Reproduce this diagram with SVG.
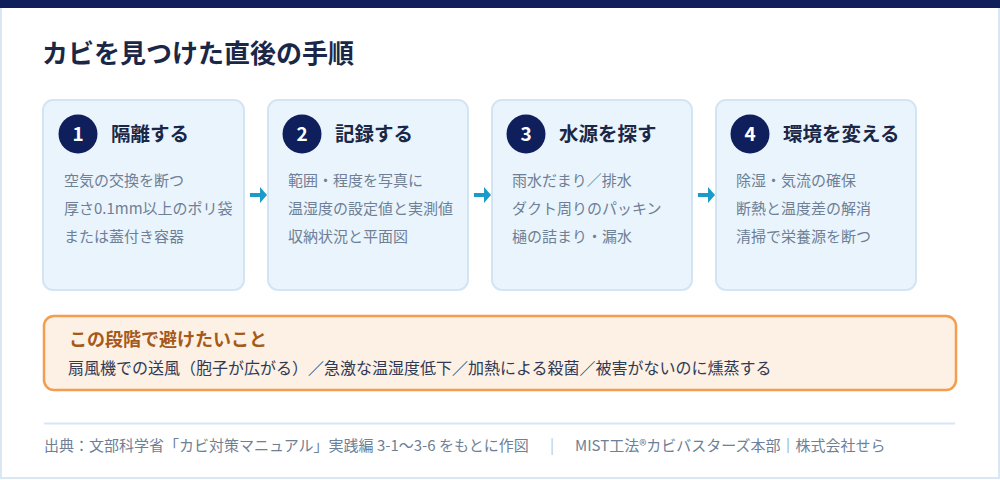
<svg xmlns="http://www.w3.org/2000/svg" width="1000" height="480" viewBox="0 0 1000 480">
<style>
text{font-family:"Noto Sans CJK JP","Noto Sans",sans-serif}
.card{fill:#eaf4fc;stroke:#d4e4f3;stroke-width:2}
.num{fill:#0f1f5c}
.numt{fill:#fff;font-size:19px;font-weight:700}
.ttl{fill:#1b2747;font-size:19.5px;font-weight:700}
.item{fill:#6e7f96;font-size:15px}
.arrow{fill:#1a9bc9}
</style>
<rect x="1" y="1" width="998" height="477" fill="#fff" stroke="#dae6f2" stroke-width="2"/>
<rect x="0" y="0" width="1000" height="8" fill="#0e1f5c"/>
<text x="42" y="63" font-size="26" font-weight="700" fill="#1b2747">カビを見つけた直後の手順</text>
<g id="connectors">
<path class="arrow" d="M250 193h10v-6l7 8-7 8v-6h-10z"/>
<path class="arrow" d="M474 193h10v-6l7 8-7 8v-6h-10z"/>
<path class="arrow" d="M698 193h10v-6l7 8-7 8v-6h-10z"/>
</g>
<g id="step1">
<rect class="card" x="43" y="100" width="201" height="190" rx="10"/>
<circle class="num" cx="78" cy="134" r="19.5"/>
<text class="numt" x="78" y="141" text-anchor="middle">1</text>
<text class="ttl" x="111" y="141">隔離する</text>
<text class="item" x="64" y="186">空気の交換を断つ</text>
<text class="item" x="64" y="214">厚さ0.1mm以上のポリ袋</text>
<text class="item" x="64" y="242">または蓋付き容器</text>
</g>
<g id="step2">
<rect class="card" x="268" y="100" width="200" height="190" rx="10"/>
<circle class="num" cx="302" cy="134" r="19.5"/>
<text class="numt" x="302" y="141" text-anchor="middle">2</text>
<text class="ttl" x="335" y="141">記録する</text>
<text class="item" x="288" y="186">範囲・程度を写真に</text>
<text class="item" x="288" y="214">温湿度の設定値と実測値</text>
<text class="item" x="288" y="242">収納状況と平面図</text>
</g>
<g id="step3">
<rect class="card" x="492" y="100" width="200" height="190" rx="10"/>
<circle class="num" cx="526" cy="134" r="19.5"/>
<text class="numt" x="526" y="141" text-anchor="middle">3</text>
<text class="ttl" x="559" y="141">水源を探す</text>
<text class="item" x="512" y="186">雨水だまり／排水</text>
<text class="item" x="512" y="214">ダクト周りのパッキン</text>
<text class="item" x="512" y="242">樋の詰まり・漏水</text>
</g>
<g id="step4">
<rect class="card" x="716" y="100" width="200" height="190" rx="10"/>
<circle class="num" cx="750" cy="134" r="19.5"/>
<text class="numt" x="750" y="141" text-anchor="middle">4</text>
<text class="ttl" x="783" y="141">環境を変える</text>
<text class="item" x="736" y="186">除湿・気流の確保</text>
<text class="item" x="736" y="214">断熱と温度差の解消</text>
<text class="item" x="736" y="242">清掃で栄養源を断つ</text>
</g>
<g id="avoid">
<rect x="44" y="316" width="912" height="74" rx="10" fill="#fdf0e4" stroke="#f29d4f" stroke-width="2.5"/>
<text x="69" y="346" font-size="18" font-weight="700" fill="#a5591b">この段階で避けたいこと</text>
<text x="68" y="374" font-size="16" fill="#2e3a56">扇風機での送風（胞子が広がる）／急激な温湿度低下／加熱による殺菌／被害がないのに燻蒸する</text>
</g>
<g id="footer">
<line x1="44" y1="423.5" x2="955" y2="423.5" stroke="#d8e6f3" stroke-width="2"/>
<text x="44" y="451" font-size="15" fill="#6e7f96">出典：文部科学省「カビ対策マニュアル」実践編 3-1〜3-6 をもとに作図</text>
<text x="552" y="451" font-size="15" fill="#b8c6d6" text-anchor="middle">|</text>
<text x="575" y="451" font-size="15" fill="#6e7f96">MIST工法®カビバスターズ本部｜株式会社せら</text>
</g>
</svg>
